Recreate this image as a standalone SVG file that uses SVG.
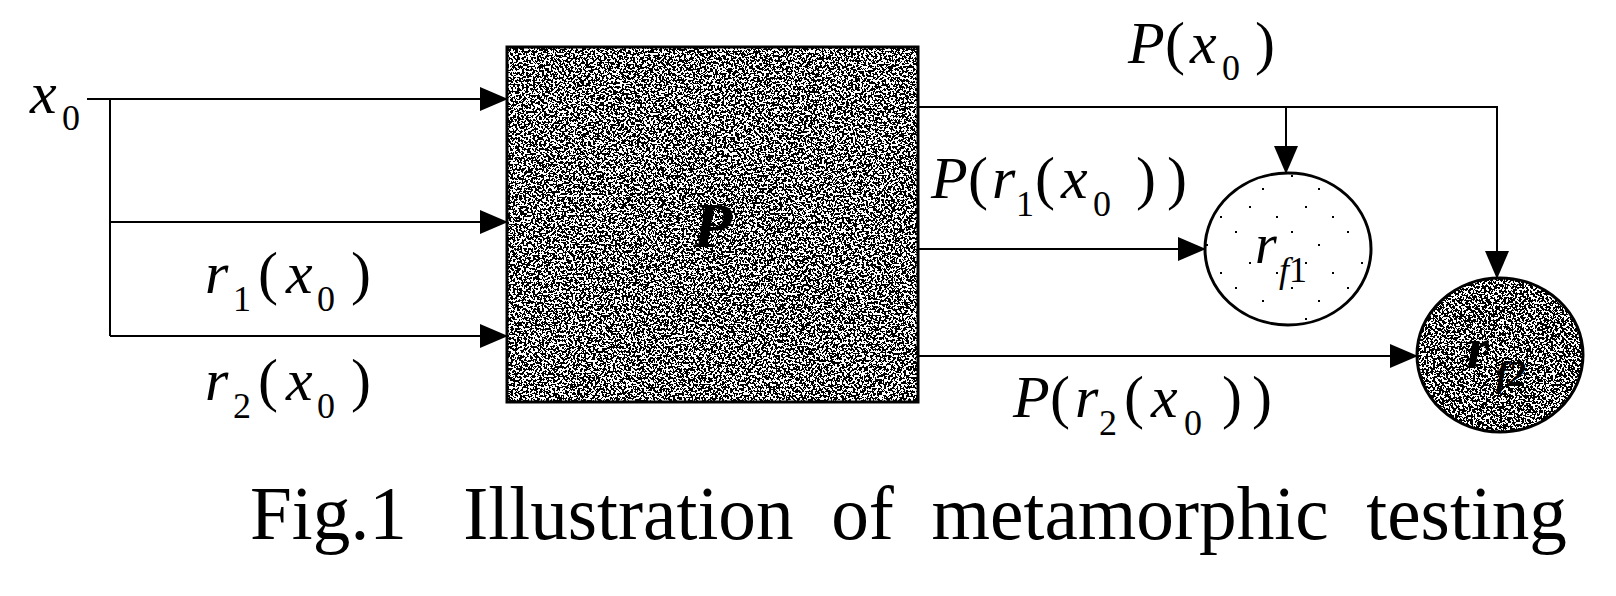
<svg xmlns="http://www.w3.org/2000/svg" width="1616" height="596" viewBox="0 0 1616 596">
<style>
.m{font-family:"Liberation Serif","Times New Roman",serif;font-style:italic;font-size:60px;fill:#000}
.n{font-family:"Liberation Serif","Times New Roman",serif;font-style:normal;font-size:60px;fill:#000}
.s{font-family:"Liberation Serif","Times New Roman",serif;font-style:normal;font-size:36px;fill:#000}
.si{font-family:"Liberation Serif","Times New Roman",serif;font-style:italic;font-size:36px;fill:#000}
.ln{fill:none;stroke:#000;stroke-width:2}
.cap{font-family:"Liberation Serif","Times New Roman",serif;font-size:76px;fill:#000}
</style>
<defs>
<marker id="arr" viewBox="0 0 28 24" markerWidth="28" markerHeight="24" refX="27" refY="12" orient="auto" markerUnits="userSpaceOnUse">
<path d="M0,0 L28,12 L0,24 Z" fill="#000"/>
</marker>
<filter id="grainA" x="0" y="0" width="1" height="1" color-interpolation-filters="sRGB">
<feTurbulence type="fractalNoise" baseFrequency="0.45" numOctaves="3" seed="7" result="n"/>
<feColorMatrix in="n" type="matrix" values="0 0 0 0 0  0 0 0 0 0  0 0 0 0 0  1.8 0 0 0 -0.39"/>
<feComponentTransfer><feFuncA type="discrete" tableValues="0 1"/></feComponentTransfer>
</filter>
<filter id="grainB" x="0" y="0" width="1" height="1" color-interpolation-filters="sRGB">
<feTurbulence type="fractalNoise" baseFrequency="0.45" numOctaves="3" seed="21" result="n"/>
<feColorMatrix in="n" type="matrix" values="0 0 0 0 0  0 0 0 0 0  0 0 0 0 0  1.8 0 0 0 -0.37"/>
<feComponentTransfer><feFuncA type="discrete" tableValues="0 1"/></feComponentTransfer>
</filter>
<pattern id="sparse" width="56" height="56" patternUnits="userSpaceOnUse">
<rect x="3" y="7" width="2" height="2" fill="#000"/>
<rect x="30" y="20" width="2" height="2" fill="#000"/>
<rect x="17" y="38" width="2" height="2" fill="#000"/>
<rect x="44" y="48" width="2" height="2" fill="#000"/>
</pattern>
<clipPath id="c2"><ellipse cx="1500" cy="355" rx="83" ry="77"/></clipPath>
</defs>

<g id="connectors">
<path class="ln" d="M87,99 H507" marker-end="url(#arr)"/>
<path class="ln" d="M110,99 V336"/>
<path class="ln" d="M110,222 H507" marker-end="url(#arr)"/>
<path class="ln" d="M110,336 H507" marker-end="url(#arr)"/>
<path class="ln" d="M918,107 H1497 V278" marker-end="url(#arr)"/>
<path class="ln" d="M1286,107 V173" marker-end="url(#arr)"/>
<path class="ln" d="M918,249 H1205" marker-end="url(#arr)"/>
<path class="ln" d="M918,356 H1417" marker-end="url(#arr)"/>
</g>

<g id="node-P">
<rect x="507" y="47" width="411" height="355" fill="#fff"/>
<rect x="507" y="47" width="411" height="355" fill="#000" filter="url(#grainA)"/>
<rect x="507" y="47" width="411" height="355" fill="none" stroke="#000" stroke-width="3"/>
<text x="693" y="247" class="m" style="font-weight:bold;font-size:64px">P</text>
</g>

<g id="node-rf1">
<ellipse cx="1288" cy="249" rx="83" ry="76" fill="#fff"/>
<ellipse cx="1288" cy="249" rx="83" ry="76" fill="url(#sparse)" stroke="#000" stroke-width="3"/>
<text class="m" x="1255" y="263" style="font-size:56px">r</text>
<text class="si" x="1279" y="282">f<tspan class="s">1</tspan></text>
</g>

<g id="node-rf2">
<ellipse cx="1500" cy="355" rx="83" ry="77" fill="#fff"/>
<g clip-path="url(#c2)">
<rect x="1416" y="277" width="168" height="156" fill="#000" filter="url(#grainB)"/>
</g>
<ellipse cx="1500" cy="355" rx="83" ry="77" fill="none" stroke="#000" stroke-width="3"/>
<text class="m" x="1467" y="367" style="font-weight:bold;font-size:56px">r</text>
<text class="si" x="1496" y="386" style="font-weight:bold">f<tspan>2</tspan></text>
</g>

<g id="labels">
<text class="m" x="30" y="113">x</text><text class="s" x="62" y="130">0</text>

<text class="m" x="205" y="293">r</text><text class="s" x="233" y="311">1</text>
<text class="n" x="258" y="293">(</text><text class="m" x="286" y="293">x</text><text class="s" x="317" y="311">0</text><text class="n" x="351" y="293">)</text>

<text class="m" x="205" y="400">r</text><text class="s" x="233" y="418">2</text>
<text class="n" x="258" y="400">(</text><text class="m" x="286" y="400">x</text><text class="s" x="317" y="418">0</text><text class="n" x="351" y="400">)</text>

<text class="m" x="1128" y="63">P</text><text class="n" x="1165" y="63">(</text><text class="m" x="1190" y="63">x</text><text class="s" x="1222" y="80">0</text><text class="n" x="1255" y="63">)</text>

<text class="m" x="931" y="198">P</text><text class="n" x="968" y="198">(</text><text class="m" x="992" y="198">r</text><text class="s" x="1016" y="216">1</text><text class="n" x="1035" y="198">(</text><text class="m" x="1061" y="198">x</text><text class="s" x="1093" y="216">0</text><text class="n" x="1136" y="198">)</text><text class="n" x="1167" y="198">)</text>

<text class="m" x="1013" y="417">P</text><text class="n" x="1050" y="417">(</text><text class="m" x="1075" y="417">r</text><text class="s" x="1099" y="435">2</text><text class="n" x="1124" y="417">(</text><text class="m" x="1151" y="417">x</text><text class="s" x="1184" y="435">0</text><text class="n" x="1222" y="417">)</text><text class="n" x="1252" y="417">)</text>
</g>

<g id="caption">
<text class="cap" x="250" y="539" textLength="1317" lengthAdjust="spacingAndGlyphs" xml:space="preserve">Fig.1   Illustration  of  metamorphic  testing</text>
</g>
</svg>
